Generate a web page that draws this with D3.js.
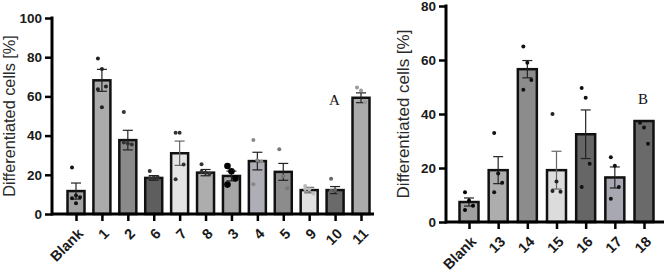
<!DOCTYPE html>
<meta charset="utf-8">
<style>
  body { margin: 0; background: #fff; }
  svg text { font-family: "Liberation Sans", Arial, sans-serif; }
</style>
<body>
<script src="https://cdn.jsdelivr.net/npm/d3@7"></script>
<script>
// panel A
var catsA = ["Blank", "1", "2", "6", "7", "8", "3", "4", "5", "9", "10", "11"];
var meanA = [11.7, 68.2, 37.7, 18.4, 31, 21.1, 19.4, 27, 21.5, 12.2, 12.2, 59.3];
var semA = [4.1, 5.6, 5, 1.2, 6.2, 1.6, 2.5, 4.5, 4.3, 1.4, 1.8, 2.5];
var ptsA = [
  [23.7, 9.5, 8.6, 8, 5.5],
  [79.3, 74, 65, 63.6, 54.5],
  [52, 36, 35.5, 36.5],
  [22, 18.5, 18.8, 18.2],
  [41.4, 41.4, 25.2, 17.7],
  [25.4, 21, 20.5, 21.5],
  [24.5, 21.8, 18.2, 15],
  [37.7, 27.4, 26.8, 15.2],
  [33, 19.2, 13.2],
  [14.3, 12.6, 10.4, 12.8],
  [18, 12.3, 10.4, 11.8],
  [64.5, 63, 57]
];
var fillA = ["#a3a3a3", "#ababab", "#8a8a8a", "#5e5e5e", "#e4e4e4", "#adadad", "#a6a6a6", "#aeaeb6", "#8c8c8c", "#e0e0e0", "#6a6a6a", "#ababab"];
var dotA = ["#111", "#222", "#333", "#333", "#333", "#333", "#000", "#888", "#777", "#bbb", "#666", "#999"];
var ticksA = [0, 20, 40, 60, 80, 100];

// panel B
var catsB = ["Blank", "13", "14", "15", "16", "17", "18"];
var meanB = [7.4, 19.2, 56.6, 19.2, 32.5, 16.5, 37.4];
var semB = [1.5, 5, 3.2, 7, 9, 3.9, 0];
var ptsB = [
  [11, 8, 6, 4.4],
  [33, 18, 14.5, 11],
  [65, 59, 52.6, 49],
  [40, 15, 11.2, 11.5],
  [49.6, 46, 21.6, 13],
  [24, 20.8, 13, 8.6],
  [36.8, 35, 29]
];
var fillB = ["#a0a0a0", "#adadad", "#8c8c8c", "#dcdcdc", "#666666", "#a8a8b2", "#6a6a6a"];
var dotB = ["#000", "#111", "#111", "#222", "#111", "#111", "#111"];
var ticksB = [0, 20, 40, 60, 80];

var svg = d3.select("body").append("svg")
  .attr("width", 666).attr("height", 279);

function panel(o) {
  var x = d3.scalePoint().domain(o.cats).range(o.xr);
  var y = d3.scaleLinear().domain([0, o.max]).range(o.yr);
  var g = svg.append("g");
  var bw = o.bw;

  // bars
  g.selectAll("rect.bar").data(o.cats).enter().append("rect")
    .attr("x", function(d) { return x(d) - bw / 2; })
    .attr("y", function(d, i) { return y(o.mean[i]); })
    .attr("width", bw)
    .attr("height", function(d, i) { return y(0) - y(o.mean[i]); })
    .attr("fill", function(d, i) { return o.fill[i]; })
    .attr("stroke", "#111").attr("stroke-width", 2.5);

  // error bars (up & down)
  o.cats.forEach(function(c, i) {
    if (!o.sem[i]) return;
    var cx = x(c), top = y(o.mean[i] + o.sem[i]), bot = y(Math.max(0, o.mean[i] - o.sem[i]));
    var col = o.fill[i] == "#e4e4e4" || o.fill[i] == "#dcdcdc" || o.fill[i] == "#e0e0e0" ? "#666" : "#222";
    g.append("line").attr("x1", cx).attr("x2", cx).attr("y1", top).attr("y2", bot)
      .attr("stroke", col).attr("stroke-width", 1.2);
    g.append("line").attr("x1", cx - 5).attr("x2", cx + 5).attr("y1", top).attr("y2", top)
      .attr("stroke", col).attr("stroke-width", 1.2);
    g.append("line").attr("x1", cx - 5).attr("x2", cx + 5).attr("y1", bot).attr("y2", bot)
      .attr("stroke", col).attr("stroke-width", 1.2);
  });

  // points
  o.cats.forEach(function(c, i) {
    var n = o.pts[i].length;
    g.selectAll(null).data(o.pts[i]).enter().append("circle")
      .attr("cx", function(d, j) { return x(c) + (n > 1 ? (j % 3 - 1) * 4 : 0); })
      .attr("cy", function(d) { return y(d); })
      .attr("r", o.big && o.big.indexOf(i) >= 0 ? 3.3 : 2)
      .attr("fill", o.dot[i]);
  });

  // axes
  var ya = g.append("g").attr("transform", "translate(" + o.xr0 + ",0)")
    .call(d3.axisLeft(y).tickValues(o.ticks).tickSize(7).tickPadding(3));
  ya.select(".domain").attr("stroke-width", 3).attr("d", "M0," + (y(0) + 1.5) + "V" + (y(o.max) - 1.5));
  ya.selectAll(".tick line").attr("stroke-width", 2.5);
  ya.selectAll("text").attr("font-size", 13.5).attr("font-weight", "bold").attr("fill", "#1a1a1a");

  var xa = g.append("g").attr("transform", "translate(0," + y(0) + ")")
    .call(d3.axisBottom(x).tickSize(7).tickPadding(3));
  xa.select(".domain").attr("stroke-width", 3).attr("d", "M" + o.xr0 + ",0H" + o.xend);
  xa.selectAll(".tick line").attr("stroke-width", 2.5);
  xa.selectAll("text")
    .attr("font-size", 14.5).attr("font-weight", "bold").attr("fill", "#1a1a1a")
    .attr("text-anchor", "end")
    .attr("y", 0).attr("dy", "0.35em")
    .attr("transform", "translate(4,17) rotate(-45)");

  svg.append("text")
    .attr("transform", "translate(" + o.labelX + "," + ((o.yr[0] + o.yr[1]) / 2) + ") rotate(-90)")
    .attr("text-anchor", "middle").attr("font-size", o.labelSize).attr("fill", "#2a2a2a")
    .text("Differentiated cells [%]");

  svg.append("text")
    .attr("x", o.letter[0]).attr("y", o.letter[1])
    .style("font-family", "'Liberation Serif', 'Times New Roman', serif")
    .attr("font-size", 15).attr("fill", "#111")
    .text(o.name);
}

panel({
  cats: catsA, mean: meanA, sem: semA, pts: ptsA, fill: fillA, dot: dotA, ticks: ticksA,
  max: 100, xr: [76, 361], yr: [214, 18], xr0: 52, xend: 374, bw: 17,
  labelX: 15, labelSize: 16.3, letter: [329, 105], name: "A", big: [6]
});
panel({
  cats: catsB, mean: meanB, sem: semB, pts: ptsB, fill: fillB, dot: dotB, ticks: ticksB,
  max: 80, xr: [469, 644], yr: [222, 6], xr0: 446, xend: 664, bw: 19,
  labelX: 409, labelSize: 17, letter: [638, 104], name: "B", big: []
});
</script>
</body>
